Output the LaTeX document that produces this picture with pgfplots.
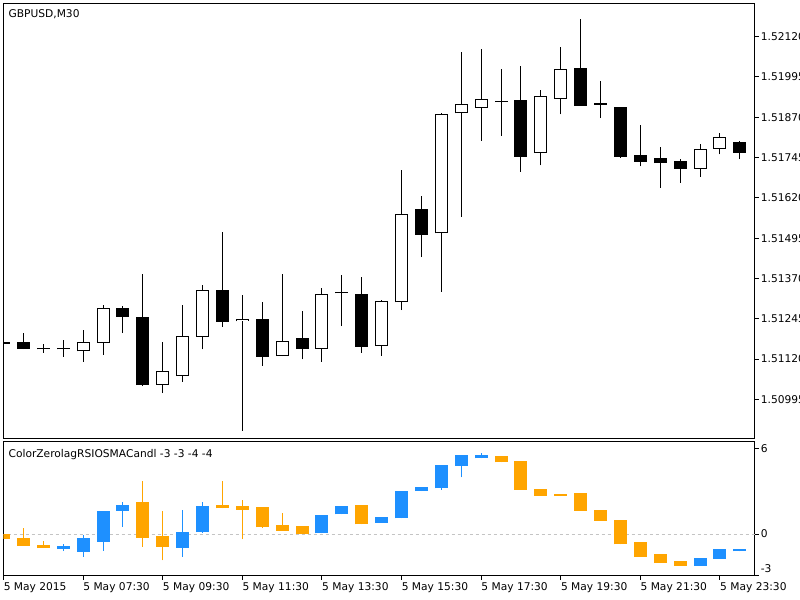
\documentclass[border=0pt]{standalone}
\usepackage{fontspec}
\setmainfont{DejaVu Sans}
\usepackage{pgfplots}
\usepackage{pgfplotstable}
\pgfplotsset{compat=1.18}
\definecolor{upc}{HTML}{1E90FF}
\definecolor{dnc}{HTML}{FFA500}
\definecolor{zl}{HTML}{C4C4C4}

% GBPUSD M30 candles: bar index, open, high, low, close
\pgfplotstableread{
x O H L C
4 1.51144 1.51210 1.51112 1.51174
5 1.51171 1.51288 1.51133 1.51279
8 1.51040 1.51172 1.51014 1.51083
9 1.51067 1.51288 1.51050 1.51191
10 1.51189 1.51349 1.51150 1.51333
12 1.51237 1.51318 1.50897 1.51245
14 1.51129 1.51384 1.51129 1.51176
16 1.51152 1.51339 1.51112 1.51323
19 1.51160 1.51303 1.51130 1.51300
20 1.51296 1.51706 1.51272 1.51569
22 1.51510 1.51882 1.51329 1.51880
23 1.51882 1.52072 1.51562 1.51911
24 1.51898 1.52082 1.51797 1.51927
27 1.51759 1.51955 1.51721 1.51935
28 1.51926 1.52089 1.51879 1.52019
35 1.51710 1.51786 1.51686 1.51773
36 1.51773 1.51821 1.51755 1.51809
}\pbull
\pgfplotstableread{
x O H L C
0 1.51171 1.51172 1.51166 1.51167
1 1.51172 1.51200 1.51151 1.51151
2 1.51151 1.51167 1.51140 1.51150
3 1.51151 1.51179 1.51127 1.51150
6 1.51279 1.51283 1.51200 1.51251
7 1.51249 1.51384 1.51036 1.51039
11 1.51333 1.51514 1.51220 1.51236
13 1.51245 1.51296 1.51099 1.51127
15 1.51184 1.51269 1.51119 1.51151
17 1.51324 1.51381 1.51222 1.51324
18 1.51323 1.51375 1.51140 1.51158
21 1.51585 1.51627 1.51436 1.51505
25 1.51917 1.52020 1.51813 1.51917
26 1.51925 1.52028 1.51701 1.51748
29 1.52024 1.52175 1.51905 1.51905
30 1.51909 1.51983 1.51867 1.51909
31 1.51901 1.51903 1.51745 1.51748
32 1.51754 1.51846 1.51718 1.51732
33 1.51743 1.51779 1.51652 1.51728
34 1.51735 1.51740 1.51667 1.51710
37 1.51792 1.51796 1.51740 1.51760
}\pbear
% ColorZerolagRSIOSMACandl candles
\pgfplotstableread{
x O H L C
3 -1.06 -0.68 -1.20 -0.85
4 -1.25 -0.07 -1.60 -0.30
5 -0.54 1.62 -1.18 1.62
6 1.65 2.24 0.52 2.05
9 -0.96 1.69 -1.60 0.14
10 0.14 2.26 0.09 1.98
16 0.05 1.34 0.05 1.34
17 1.39 1.98 1.39 1.98
19 0.78 1.18 0.78 1.18
20 1.11 3.03 1.11 3.03
21 3.03 3.30 3.03 3.30
22 3.22 4.87 3.11 4.87
23 4.80 5.58 4.00 5.58
24 5.34 5.74 5.34 5.58
35 -2.24 -1.69 -2.24 -1.69
36 -1.76 -1.08 -1.76 -1.08
37 -1.22 -1.08 -1.22 -1.08
}\oscup
\pgfplotstableread{
x O H L C
0 0.00 0.00 -0.35 -0.35
1 -0.30 0.40 -0.82 -0.82
2 -0.75 -0.49 -0.99 -0.99
7 2.24 3.74 -0.89 -0.28
8 -0.14 1.62 -1.86 -0.89
11 2.07 3.74 1.81 1.81
12 1.98 2.40 -0.38 1.72
13 1.88 1.88 0.42 0.47
14 0.66 1.46 0.24 0.24
15 0.56 0.56 -0.02 -0.02
18 2.07 2.07 0.68 0.68
25 5.50 5.50 5.06 5.06
26 5.13 5.13 3.13 3.13
27 3.20 3.20 2.70 2.70
28 2.80 2.80 2.68 2.68
29 2.87 2.87 1.65 1.65
30 1.72 1.72 0.94 0.94
31 0.99 0.99 -0.73 -0.73
32 -0.59 -0.59 -1.60 -1.60
33 -1.43 -1.43 -2.05 -2.05
34 -1.88 -1.88 -2.24 -2.24
}\oscdn

\pgfplotsset{
  mt/.style={
    scale only axis, xmin=0, xmax=37.76,
    axis line style={line width=0.75pt},
    tick style={black, line width=0.75pt},
    major tick length=3pt, tick align=outside,
    ytick pos=right,
    every tick label/.append style={font=\fontsize{8}{9.6}\selectfont, black},
    yticklabel style={anchor=west, inner sep=1.2pt},
  },
  bar/.style 2 args={draw=none, mark=none, forget plot,
    error bars/.cd, y dir=plus, y explicit, error mark=none,
    error bar style={line width=#1, draw=#2, solid}},
}

\begin{document}
\begin{tikzpicture}
\useasboundingbox (0,0) rectangle (600pt,450pt);
\clip (0,0) rectangle (600pt,450pt);
\fill[white] (0,0) rectangle (600pt,450pt);

% ---------- price panel ----------
\begin{axis}[mt, at={(2.625pt,120.75pt)}, anchor=south west,
  width=563.6pt, height=326.8pt,
  ymin=1.508719, ymax=1.522237,
  xtick=\empty,
  ytick={1.50995,1.51120,1.51245,1.51370,1.51495,1.51620,1.51745,1.51870,1.51995,1.52120},
  yticklabels={1.50995,1.51120,1.51245,1.51370,1.51495,1.51620,1.51745,1.51870,1.51995,1.52120},
]
% wicks
\addplot[bar={0.75pt}{black}] table[x=x, y=L, y error expr={\thisrow{H}-\thisrow{L}}] {\pbull};
\addplot[bar={0.75pt}{black}] table[x=x, y=L, y error expr={\thisrow{H}-\thisrow{L}}] {\pbear};
% bear bodies
\addplot[bar={9.75pt}{black}] table[x=x, y=C, y error expr={max(\thisrow{O}-\thisrow{C},0.00005)}] {\pbear};
% bull bodies: outline then white inside
\addplot[bar={9.75pt}{black}] table[x=x, y=O, y error expr={\thisrow{C}-\thisrow{O}}] {\pbull};
\addplot[bar={8.25pt}{white}] table[x=x, y expr={\thisrow{O}+0.000031}, y error expr={\thisrow{C}-\thisrow{O}-0.000062}] {\pbull};
\node[anchor=north west, inner sep=0pt, font=\fontsize{8}{9.6}\selectfont, xshift=3.6pt, yshift=-4.6pt] at (rel axis cs:0,1) {GBPUSD,M30};
\end{axis}

% ---------- oscillator panel ----------
\begin{axis}[mt, at={(2.625pt,18.225pt)}, anchor=south west,
  width=563.6pt, height=100.5pt,
  ymin=-2.94, ymax=6.51,
  xtick={0,4,...,36}, xtick pos=lower,
  xticklabels={5 May 2015,5 May 07:30,5 May 09:30,5 May 11:30,5 May 13:30,5 May 15:30,5 May 17:30,5 May 19:30,5 May 21:30,5 May 23:30},
  xticklabel style={anchor=north west, inner sep=0pt, yshift=-2.2pt},
  ytick={0,6}, yticklabels={0,6},
  extra y ticks={-2.94}, extra y tick labels={-3},
  extra y tick style={yticklabel style={yshift=5.2pt}},
]
\addplot[zl, line width=0.75pt, dash pattern=on 2.25pt off 2.25pt, forget plot] coordinates {(-1,0) (40,0)};
% wicks
\addplot[bar={0.75pt}{upc}] table[x=x, y=L, y error expr={\thisrow{H}-\thisrow{L}}] {\oscup};
\addplot[bar={0.75pt}{dnc}] table[x=x, y=L, y error expr={\thisrow{H}-\thisrow{L}}] {\oscdn};
% bodies
\addplot[bar={9.75pt}{upc}] table[x=x, y=O, y error expr={max(\thisrow{C}-\thisrow{O},0.1)}] {\oscup};
\addplot[bar={9.75pt}{dnc}] table[x=x, y=C, y error expr={max(\thisrow{O}-\thisrow{C},0.1)}] {\oscdn};
\node[anchor=north west, inner sep=0pt, font=\fontsize{8}{9.6}\selectfont, xshift=3.6pt, yshift=-5.5pt] at (rel axis cs:0,1) {ColorZerolagRSIOSMACandl -3 -3 -4 -4};
\end{axis}
\end{tikzpicture}
\end{document}
